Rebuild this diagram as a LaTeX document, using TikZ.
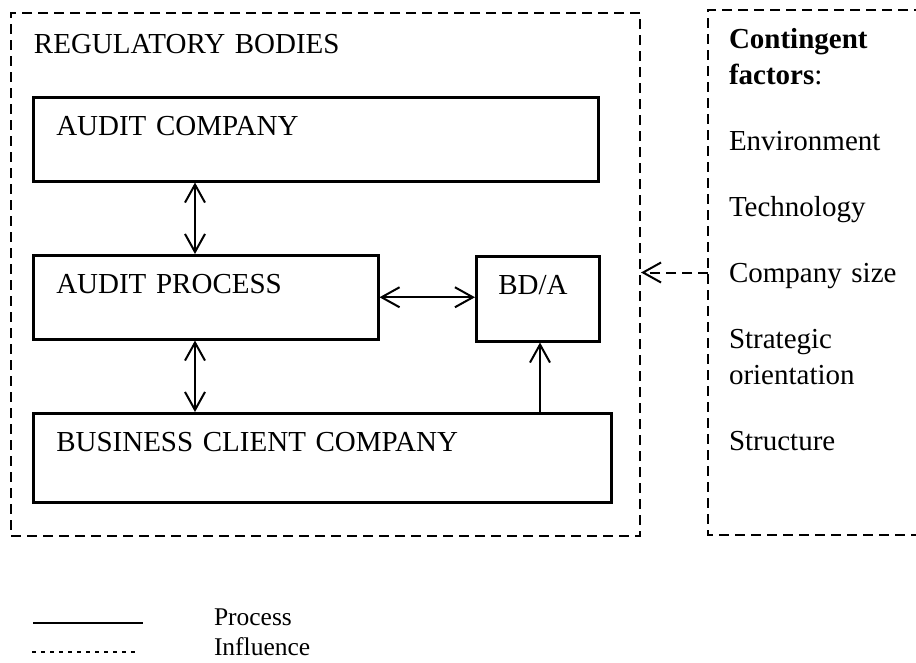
\documentclass[tikz,border=0pt]{standalone}
\usepackage{fontspec}
\setmainfont{Liberation Serif}
\usetikzlibrary{arrows.meta}
\usetikzlibrary{math}
\usetikzlibrary{calc}

\tikzset{
  unit/.style={draw, line width=2.5pt, anchor=north west, align=left,
    inner xsep=23pt, inner ysep=0pt, text height=38pt,
    font=\fontsize{29}{36}\selectfont},
  influence/.style={line width=2pt, dash pattern=on 10pt off 6pt},
  legendtext/.style={anchor=base west, inner sep=0pt,
    font=\fontsize{25.5}{30}\selectfont},
}

\begin{document}
\begin{tikzpicture}[x=1pt,y=-1pt,line width=2pt,
    >={Straight Barb[length=18pt,width=20pt]}]

  \tikzmath{
    \colA = 163; % offset of the vertical arrows between the audit boxes
    \colB = 65;  % offset of the arrow that goes up into BD/A
  }

  \useasboundingbox (0,0) rectangle (916,662);

  % dashed frame of the regulatory bodies
  \node[unit, influence, text height=40pt, text width=583pt, text depth=483pt]
    (regbox) at (10,12) {REGULATORY BODIES};

  % frame of the contingent factors, open to the right
  \coordinate (ctgNE) at (940,10);
  \coordinate (ctgNW) at (708,10);
  \coordinate (ctgSW) at (708,535);
  \coordinate (ctgSE) at (940,535);
  \coordinate (ctgW)  at ($(ctgNW)!0.5!(ctgSW)$);
  \draw[influence] (ctgNE) -- (ctgNW) -- (ctgSW) -- (ctgSE);

  % list of contingent factors
  \node[anchor=north west, inner sep=0pt, text width=180pt, align=left,
    font=\fontsize{29}{36}\selectfont] (ctglist) at (728,27)
    {\textbf{Contingent}\\ \textbf{factors}:\\[30pt] Environment\\[30pt]
     Technology\\[30pt] Company size\\[30pt] Strategic\\ orientation\\[30pt]
     Structure};

  % boxes
  \node[unit, text width=519pt, text depth=46pt] (company) at (32,96) {AUDIT COMPANY};
  \node[unit, text width=299pt, text depth=46pt] (process) at (32,254) {AUDIT PROCESS};
  \node[unit, inner xsep=22pt, text width=79pt, text depth=47pt] (bda) at (475,255) {BD/A};
  \node[unit, text width=532pt, text depth=51pt] (client) at (32,412) {BUSINESS CLIENT COMPANY};

  % foot of the arrow into BD/A
  \coordinate (bdafoot) at ([xshift=\colB]bda.south west);

  % process arrows
  \draw[<->] ([xshift=\colA]company.south west) -- ([xshift=\colA]process.north west);
  \draw[<->] ([xshift=\colA]process.south west) -- ([xshift=\colA]client.north west);
  \draw[<->] (process.east) -- (process.east -| bda.west);
  \draw[->] (client.north -| bdafoot) -- (bdafoot);

  % influence arrow
  \draw[influence, ->] (ctgW) -- (ctgW -| regbox.east);

  % legend
  \coordinate (lg0) at (33,623);
  \coordinate (lg1) at (143,623);
  \coordinate (lg2) at (32,652);
  \coordinate (lg3) at (138,652);
  \draw[line width=1.5pt] (lg0) -- (lg1);
  \draw[line width=1.2pt, dash pattern=on 4pt off 5pt] (lg2) -- (lg3);
  \node[legendtext] (lgproc) at (213,625) {Process};
  \node[legendtext] (lginfl) at (213,655) {Influence};

\end{tikzpicture}
\end{document}
